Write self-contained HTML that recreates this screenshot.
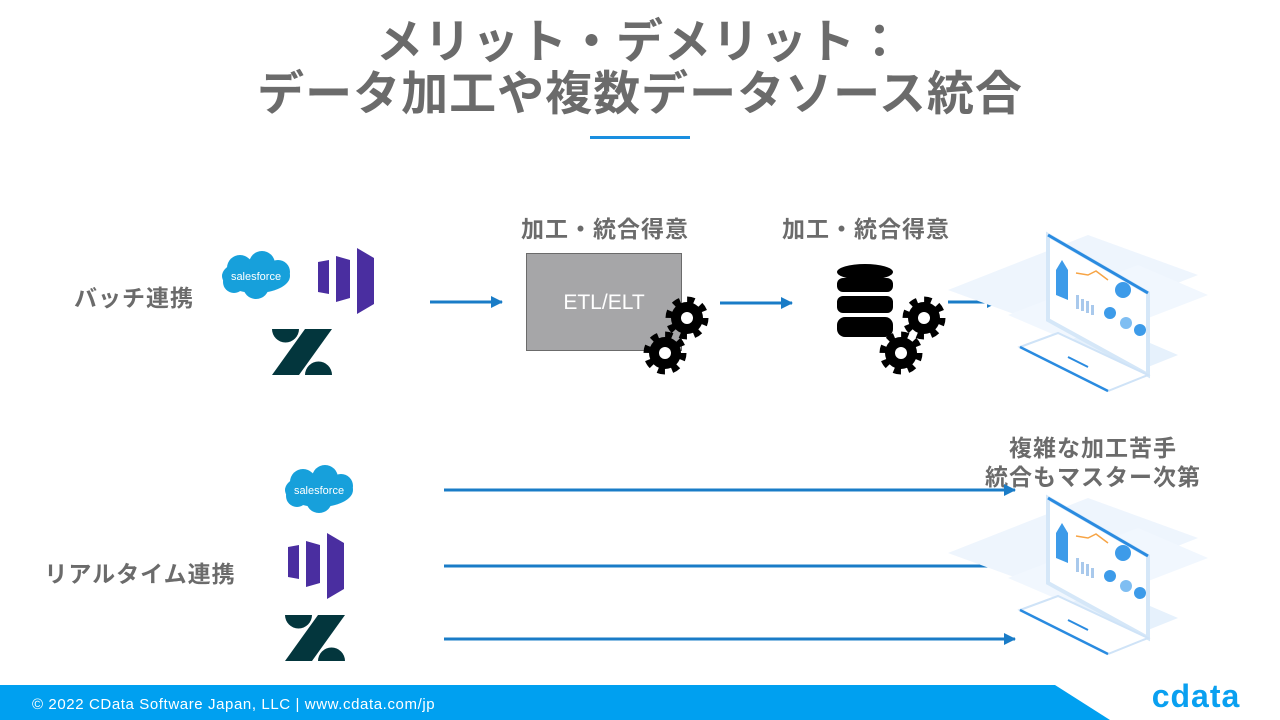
<!DOCTYPE html>
<html><head><meta charset="utf-8"><style>
html,body{margin:0;padding:0;background:#fff;}
svg{display:block;font-family:"Liberation Sans","Noto Sans CJK JP",sans-serif;}
</style></head><body>
<svg width="1280" height="720" viewBox="0 0 1280 720" xmlns="http://www.w3.org/2000/svg">
<defs>
<marker id="ar" markerWidth="12" markerHeight="12" refX="11" refY="6" orient="auto" markerUnits="userSpaceOnUse">
<path d="M0,0 L12,6 L0,12 Z" fill="#1a7cc7"/></marker>
<g id="mon">
 <polygon points="-100,55 40,0 150,40 10,95" fill="#eef5fd"/>
 <polygon points="-40,80 90,30 160,60 30,110" fill="#f1f7fe"/>
 <polygon points="-15,120 60,90 130,120 55,150" fill="#e6f1fc"/>
 <polygon points="0,0 100,58 100,140 0,85" fill="#fff" stroke="#d5e7f8" stroke-width="4"/>
 <line x1="0" y1="0" x2="100" y2="58" stroke="#2a8be0" stroke-width="3"/>
 <polygon points="8,35 14,25 20,35 20,65 8,60" fill="#3d9be9"/>
 <polyline points="28,38 40,40 48,36 60,45" fill="none" stroke="#f7a445" stroke-width="1.5"/>
 <g fill="#a9c9ec"><rect x="28" y="60" width="3" height="14"/><rect x="33" y="64" width="3" height="12"/><rect x="38" y="66" width="3" height="12"/><rect x="43" y="70" width="3" height="10"/></g>
 <circle cx="75" cy="55" r="8" fill="#3d9be9"/>
 <circle cx="62" cy="78" r="6" fill="#3d9be9"/><circle cx="78" cy="88" r="6" fill="#7fbef2"/><circle cx="92" cy="95" r="6" fill="#3d9be9"/>
 <polygon points="-28,112 10,98 100,140 60,156" fill="#fff" stroke="#cfe3f7" stroke-width="2"/>
 <line x1="-28" y1="112" x2="60" y2="156" stroke="#2a8be0" stroke-width="2.5"/>
 <line x1="20" y1="122" x2="40" y2="132" stroke="#2a8be0" stroke-width="2"/>
</g>
<g id="gear">
 <circle r="17" fill="none" stroke="#000" stroke-width="9" stroke-dasharray="6.7 6.65"/>
 <circle r="16" fill="#000"/><circle r="6" fill="#fff"/>
</g>
<g id="sf">
 <ellipse cx="0" cy="0" rx="34" ry="17" fill="#17a0db"/>
 <circle cx="-16" cy="-8" r="13" fill="#17a0db"/><circle cx="6" cy="-12" r="13" fill="#17a0db"/><circle cx="22" cy="-4" r="12" fill="#17a0db"/><circle cx="0" cy="10" r="13" fill="#17a0db"/><circle cx="-22" cy="6" r="11" fill="#17a0db"/>
 <text x="0" y="4" font-size="11" fill="#fff" text-anchor="middle">salesforce</text>
</g>
<g id="mk" fill="#4a2ea0">
 <polygon points="0,6 11,4 11,38 0,36"/><polygon points="18,0 32,4 32,42 18,46"/><polygon points="39,-8 56,2 56,48 39,58"/>
</g>
<g id="zd" fill="#03363d">
 <path d="M0,0 H27 A13.5,13.5 0 0 1 0,0 Z"/>
 <path d="M0,0 A13.5,13.5 0 0 1 27,0 Z" transform="translate(33,46)"/>
 <polygon points="33,0 60,0 27,46 0,46"/>
</g>
</defs>
<text x="640" y="58" font-size="47" font-weight="bold" fill="#6b6b6b" text-anchor="middle" letter-spacing="1">メリット・デメリット：</text>
<text x="640" y="110" font-size="47" font-weight="bold" fill="#6b6b6b" text-anchor="middle" letter-spacing="1">データ加工や複数データソース統合</text>
<rect x="590" y="136" width="100" height="3" fill="#1a8fe0"/>

<g font-size="23" font-weight="bold" fill="#6b6b6b" text-anchor="middle" letter-spacing="1">
<text x="134" y="306">バッチ連携</text>
<text x="140" y="582">リアルタイム連携</text>
<text x="605" y="237">加工・統合得意</text>
<text x="866" y="237">加工・統合得意</text>
<text x="1093" y="456">複雑な加工苦手</text>
<text x="1093" y="485">統合もマスター次第</text>
</g>

<use href="#sf" x="256" y="276"/>
<use href="#mk" x="318" y="256"/>
<use href="#zd" x="272" y="329"/>
<use href="#sf" x="319" y="490"/>
<use href="#mk" x="288" y="541"/>
<use href="#zd" x="285" y="615"/>

<rect x="526.5" y="253.5" width="155" height="97" fill="#a6a6a8" stroke="#6b6b6b" stroke-width="1"/>
<text x="604" y="309" font-size="21" fill="#fff" text-anchor="middle">ETL/ELT</text>
<use href="#gear" x="687" y="318"/>
<use href="#gear" x="665" y="353"/>

<g fill="#000">
 <ellipse cx="865" cy="272" rx="28" ry="8"/>
 <rect x="837" y="278" width="56" height="14" rx="6"/>
 <rect x="837" y="296" width="56" height="17" rx="6"/>
 <rect x="837" y="317" width="56" height="20" rx="8"/>
</g>
<use href="#gear" x="924" y="318"/>
<use href="#gear" x="901" y="353"/>

<g stroke="#1a7cc7" stroke-width="3" marker-end="url(#ar)">
<line x1="430" y1="302" x2="502" y2="302"/>
<line x1="720" y1="303" x2="792" y2="303"/>
<line x1="948" y1="302" x2="998" y2="302"/>
<line x1="444" y1="490" x2="1015" y2="490"/>
<line x1="444" y1="566" x2="1015" y2="566"/>
<line x1="444" y1="639" x2="1015" y2="639"/>
</g>
<use href="#mon" x="1048" y="235"/>
<use href="#mon" x="1048" y="498"/>

<polygon points="0,685 1055,685 1110,720 0,720" fill="#00a0f0"/>
<text x="32" y="709" font-size="15" fill="#fff" letter-spacing="0.6">© 2022  CData Software Japan, LLC |   www.cdata.com/jp</text>
<text x="1196" y="707" font-size="32" font-weight="bold" fill="#0aa0f0" text-anchor="middle" letter-spacing="1">cdata</text>
</svg>
</body></html>
